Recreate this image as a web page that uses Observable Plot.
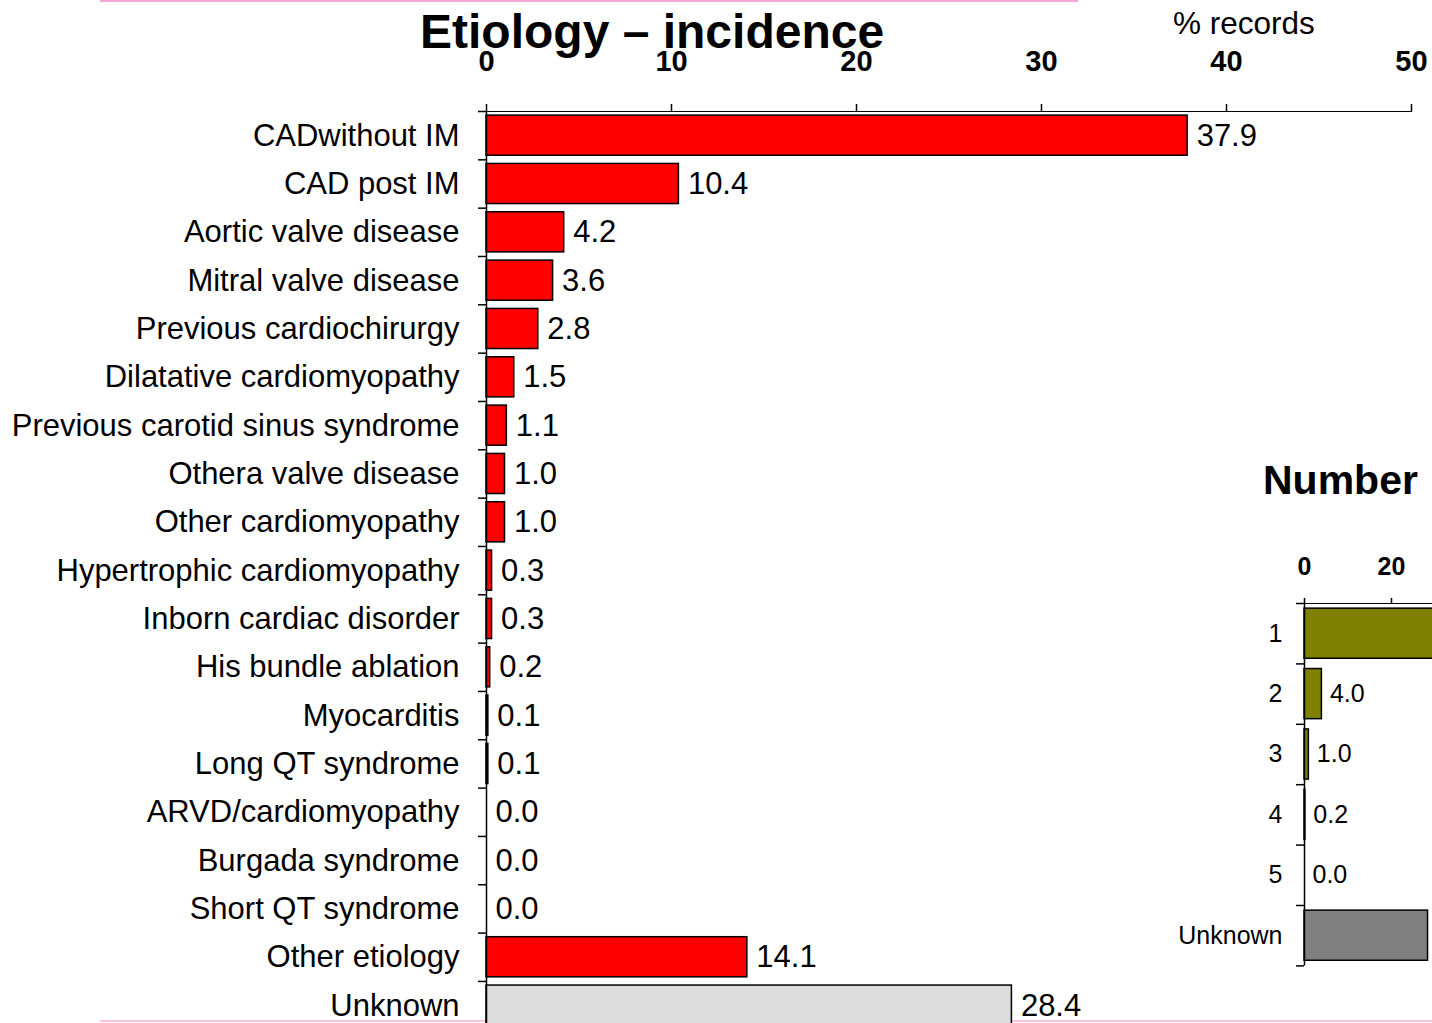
<!DOCTYPE html>
<html>
<head>
<meta charset="utf-8">
<script src="https://cdn.jsdelivr.net/npm/d3@7"></script>
<script src="https://cdn.jsdelivr.net/npm/@observablehq/plot@0.6"></script>
<style>
  html, body { margin: 0; padding: 0; background: #fff; overflow: hidden; }
  #stage { position: relative; width: 1432px; height: 1023px; overflow: hidden; font-family: "Liberation Sans", Arial, sans-serif; }
  .abs { position: absolute; }
  .txt { position: absolute; white-space: nowrap; color: #000; line-height: 1; }
  #stage svg { max-width: none !important; }
  #main g[aria-label="x-axis tick label"], #main g[aria-label="x-axis"] text { font-weight: bold; font-size: 29px; }
  #num g[aria-label="x-axis tick label"], #num g[aria-label="x-axis"] text { font-weight: bold; font-size: 25px; }
  g[aria-label="x-axis tick"], g[aria-label="x-axis"] line { stroke-width: 1.5px; }
</style>
</head>
<body>
<div id="stage">
  <div class="abs" style="left:100px; top:0px; width:978px; height:2px; background:#f5a6d6;"></div>
  <div class="abs" style="left:100px; top:1020px; width:1332px; height:2px; background:#f8c4e2;"></div>
  <div id="main" class="abs" style="left:0; top:0; width:1432px;"></div>
  <div id="num" class="abs" style="left:1164px; top:523px; width:520px;"></div>
  <div class="txt" style="left:420px; top:8px; font-size:48px; font-weight:bold;">Etiology – incidence</div>
  <div class="txt" style="left:1173px; top:8px; font-size:31.5px;">% records</div>
  <div class="txt" style="left:1263px; top:460px; font-size:41px; font-weight:bold;">Number</div>
</div>
<script>
// ---- Data: etiology incidence (% records) ----
const categories = [
  "CADwithout IM", "CAD post IM", "Aortic valve disease", "Mitral valve disease",
  "Previous cardiochirurgy", "Dilatative cardiomyopathy", "Previous carotid sinus syndrome",
  "Othera valve disease", "Other cardiomyopathy", "Hypertrophic cardiomyopathy",
  "Inborn cardiac disorder", "His bundle ablation", "Myocarditis", "Long QT syndrome",
  "ARVD/cardiomyopathy", "Burgada syndrome", "Short QT syndrome", "Other etiology", "Unknown"
];
const values = [37.9, 10.4, 4.2, 3.6, 2.8, 1.5, 1.1, 1.0, 1.0, 0.3, 0.3, 0.2, 0.1, 0.1, 0.0, 0.0, 0.0, 14.1, 28.4];
const xTicks = [0, 10, 20, 30, 40, 50];

// ---- Data: number (% records) ----
const numCategories = ["1", "2", "3", "4", "5", "Unknown"];
const numValues = [66.4, 4.0, 1.0, 0.2, 0.0, 28.4];
const numTicks = [0, 20];

const font = "Liberation Sans, Arial, sans-serif";

// ---------- main chart ----------
{
  const mL = 486, mR = 21, mT = 111, mB = 10, W = 1432;
  const step = 48.33;
  const H = mT + step * categories.length + mB;
  const ppu = (W - mL - mR) / 50;
  const data = categories.map((c, i) => ({cat: c, value: values[i]}));
  const last = categories[categories.length - 1];
  const chart = Plot.plot({
    width: W, height: H,
    marginLeft: mL, marginRight: mR, marginTop: mT, marginBottom: mB,
    style: {fontFamily: font, fontSize: "31px", color: "#000", background: "transparent", overflow: "visible", maxWidth: "none"},
    x: {domain: [0, 50], axis: "top", ticks: xTicks, tickFormat: d => String(d), tickSize: 8, tickPadding: 32, line: true, label: null},
    y: {domain: categories, paddingInner: 0.17, paddingOuter: 0.085, round: false, tickSize: 0, tickPadding: 27, label: null},
    color: {type: "identity"},
    marks: [
      Plot.barX(data, {x: "value", y: "cat", fill: d => d.cat === "Unknown" ? "#dcdcdc" : "#ff0000", stroke: "#000", strokeWidth: 1.5}),
      Plot.ruleX([0], {stroke: "#000", strokeWidth: 1.5}),
      Plot.ruleY(categories, {y: d => d, x1: -8 / ppu, x2: 0, dy: -step / 2, stroke: "#000", strokeWidth: 1.5}),
      Plot.ruleY([last], {y: d => d, x1: -8 / ppu, x2: 0, dy: step / 2, stroke: "#000", strokeWidth: 1.5}),
      Plot.text(data, {x: "value", y: "cat", text: d => d.value.toFixed(1), dx: 9, textAnchor: "start", fill: "#000", fontSize: 31})
    ]
  });
  document.getElementById("main").appendChild(chart);
}

// ---------- number chart ----------
{
  const mL = 140, mR = 20, mT = 80, mB = 10;
  const ppu = 4.35;
  const W = mL + mR + ppu * 80;
  const step = 60.4;
  const H = mT + step * numCategories.length + mB;
  const data = numCategories.map((c, i) => ({cat: c, value: numValues[i]}));
  const last = numCategories[numCategories.length - 1];
  const chart = Plot.plot({
    width: W, height: H,
    marginLeft: mL, marginRight: mR, marginTop: mT, marginBottom: mB,
    style: {fontFamily: font, fontSize: "25px", color: "#000", background: "transparent", overflow: "visible", maxWidth: "none"},
    x: {domain: [0, 80], axis: "top", ticks: numTicks, tickFormat: d => String(d), tickSize: 6, tickPadding: 22, line: true, label: null},
    y: {domain: numCategories, paddingInner: 0.17, paddingOuter: 0.085, round: false, tickSize: 0, tickPadding: 22, label: null},
    color: {type: "identity"},
    marks: [
      Plot.barX(data, {x: "value", y: "cat", fill: d => d.cat === "Unknown" ? "#808080" : "#808000", stroke: "#000", strokeWidth: 1.5}),
      Plot.ruleX([0], {stroke: "#000", strokeWidth: 1.5}),
      Plot.ruleY(numCategories, {y: d => d, x1: -8 / ppu, x2: 0, dy: -step / 2, stroke: "#000", strokeWidth: 1.5}),
      Plot.ruleY([last], {y: d => d, x1: -8 / ppu, x2: 0, dy: step / 2, stroke: "#000", strokeWidth: 1.5}),
      Plot.text(data, {x: "value", y: "cat", text: d => d.value.toFixed(1), dx: 8, textAnchor: "start", fill: "#000", fontSize: 25})
    ]
  });
  document.getElementById("num").appendChild(chart);
}
</script>
</body>
</html>
